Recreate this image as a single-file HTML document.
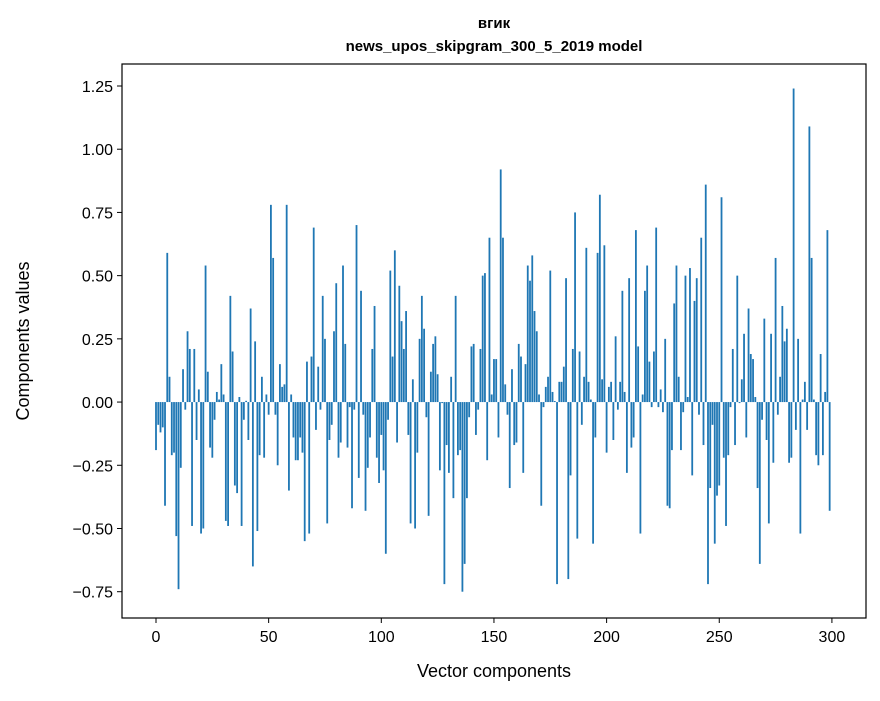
<!DOCTYPE html>
<html><head><meta charset="utf-8"><style>
body{margin:0;background:#fff;}
svg text{font-family:"Liberation Sans","DejaVu Sans",sans-serif;}
</style></head><body>
<svg id="chart" width="880" height="696" xmlns="http://www.w3.org/2000/svg">
<rect x="0" y="0" width="880" height="696" fill="#fff"/>
<g id="bars"></g>
<rect x="122" y="64" width="744" height="554" fill="none" stroke="#000" stroke-width="1.2"/>
<g id="xticks"></g>
<g id="yticks"></g>
<text x="494" y="28" text-anchor="middle" font-size="15" font-weight="bold">вгик</text>
<text x="494" y="51" text-anchor="middle" font-size="15" font-weight="bold">news_upos_skipgram_300_5_2019 model</text>
<text x="494" y="677" text-anchor="middle" font-size="18">Vector components</text>
<text x="0" y="0" transform="translate(29,341) rotate(-90)" text-anchor="middle" font-size="18">Components values</text>
</svg>
<script>
const values = [
-0.19,-0.09,-0.12,-0.10,-0.41,0.59,0.10,-0.21,-0.20,-0.53,
-0.74,-0.26,0.13,-0.03,0.28,0.21,-0.49,0.21,-0.15,0.05,
-0.52,-0.50,0.54,0.12,-0.18,-0.22,-0.07,0.04,0.01,0.15,
0.03,-0.47,-0.49,0.42,0.20,-0.33,-0.36,0.02,-0.49,-0.07,
0.005,-0.15,0.37,-0.65,0.24,-0.51,-0.21,0.10,-0.22,0.03,
-0.05,0.78,0.57,-0.05,-0.25,0.15,0.06,0.07,0.78,-0.35,
0.03,-0.14,-0.23,-0.23,-0.14,-0.20,-0.55,0.16,-0.52,0.18,
0.69,-0.11,0.14,-0.03,0.42,0.25,-0.48,-0.15,-0.09,0.28,
0.47,-0.22,-0.16,0.54,0.23,-0.18,-0.02,-0.42,-0.03,0.70,
-0.30,0.44,-0.05,-0.43,-0.26,-0.14,0.21,0.38,-0.22,-0.32,
-0.13,-0.27,-0.60,-0.07,0.52,0.18,0.60,-0.16,0.46,0.32,
0.21,0.36,-0.13,-0.48,0.09,-0.50,-0.20,0.25,0.42,0.29,
-0.06,-0.45,0.12,0.23,0.26,0.11,-0.27,-0.004,-0.72,-0.17,
-0.28,0.10,-0.38,0.42,-0.21,-0.19,-0.75,-0.64,-0.38,-0.06,
0.22,0.23,-0.13,-0.03,0.21,0.50,0.51,-0.23,0.65,0.03,
0.17,0.17,-0.14,0.92,0.65,0.07,-0.05,-0.34,0.13,-0.17,
-0.16,0.23,0.18,-0.28,0.15,0.54,0.48,0.58,0.36,0.28,
0.03,-0.41,-0.02,0.06,0.10,0.52,0.04,0.004,-0.72,0.08,
0.08,0.14,0.49,-0.70,-0.29,0.21,0.75,-0.54,0.20,-0.09,
0.10,0.61,0.08,0.01,-0.56,-0.14,0.59,0.82,0.09,0.62,
-0.20,0.06,0.08,-0.15,0.26,-0.03,0.08,0.44,0.04,-0.28,
0.49,-0.18,-0.14,0.68,0.22,-0.52,0.03,0.44,0.54,0.16,
-0.02,0.20,0.69,-0.02,0.05,-0.04,0.25,-0.41,-0.42,-0.19,
0.39,0.54,0.10,-0.19,-0.04,0.50,0.02,0.53,-0.29,0.40,
0.49,-0.05,0.65,-0.17,0.86,-0.72,-0.34,-0.09,-0.56,-0.37,
-0.33,0.81,-0.22,-0.49,-0.21,-0.02,0.21,-0.17,0.50,-0.004,
0.09,0.27,-0.14,0.37,0.19,0.17,0.02,-0.34,-0.64,-0.07,
0.33,-0.15,-0.48,0.27,-0.24,0.57,-0.05,0.10,0.38,0.24,
0.29,-0.24,-0.22,1.24,-0.11,0.25,-0.52,0.01,0.08,-0.11,
1.09,0.57,0.01,-0.21,-0.25,0.19,-0.21,0.04,0.68,-0.43
];
const xTicks = [0,50,100,150,200,250,300];
const yTicks = [-0.75,-0.5,-0.25,0,0.25,0.5,0.75,1.0,1.25];
const yTickLabels = ["\u22120.75","\u22120.50","\u22120.25","0.00","0.25","0.50","0.75","1.00","1.25"];

const X0=122,X1=866,Y0=64,Y1=618;
const xMin=-15.09,xMax=315.13,yMin=-0.854,yMax=1.337;
function xs(v){return X0+(v-xMin)/(xMax-xMin)*(X1-X0);}
function ys(v){return Y1-(v-yMin)/(yMax-yMin)*(Y1-Y0);}
const NS="http://www.w3.org/2000/svg";
const bars=document.getElementById('bars');
values.forEach((v,i)=>{
  const r=document.createElementNS(NS,'rect');
  const xa=xs(i-0.4),xb=xs(i+0.4);
  const y0=ys(0),y1=ys(v);
  r.setAttribute('x',xa);r.setAttribute('width',xb-xa);
  r.setAttribute('y',Math.min(y0,y1));r.setAttribute('height',Math.abs(y1-y0));
  r.setAttribute('fill','#1f77b4');
  
  
  bars.appendChild(r);
});
const xg=document.getElementById('xticks');
xTicks.forEach(t=>{
  const l=document.createElementNS(NS,'line');
  l.setAttribute('x1',xs(t));l.setAttribute('x2',xs(t));l.setAttribute('y1',Y1);l.setAttribute('y2',Y1+5);
  l.setAttribute('stroke','#000');
  
  
  xg.appendChild(l);
  const tx=document.createElementNS(NS,'text');
  tx.setAttribute('x',xs(t));tx.setAttribute('y',Y1+24);tx.setAttribute('text-anchor','middle');tx.setAttribute('font-size','16');
  tx.textContent=String(t);
  
  
  xg.appendChild(tx);
});
const yg=document.getElementById('yticks');
yTicks.forEach((t,k)=>{
  const l=document.createElementNS(NS,'line');
  l.setAttribute('x1',X0-5);l.setAttribute('x2',X0);l.setAttribute('y1',ys(t));l.setAttribute('y2',ys(t));
  l.setAttribute('stroke','#000');
  
  
  yg.appendChild(l);
  const tx=document.createElementNS(NS,'text');
  tx.setAttribute('x',X0-9);tx.setAttribute('y',ys(t)+6);tx.setAttribute('text-anchor','end');tx.setAttribute('font-size','16');
  tx.textContent=yTickLabels[k];
  
  
  yg.appendChild(tx);
});
</script>
</body></html>
